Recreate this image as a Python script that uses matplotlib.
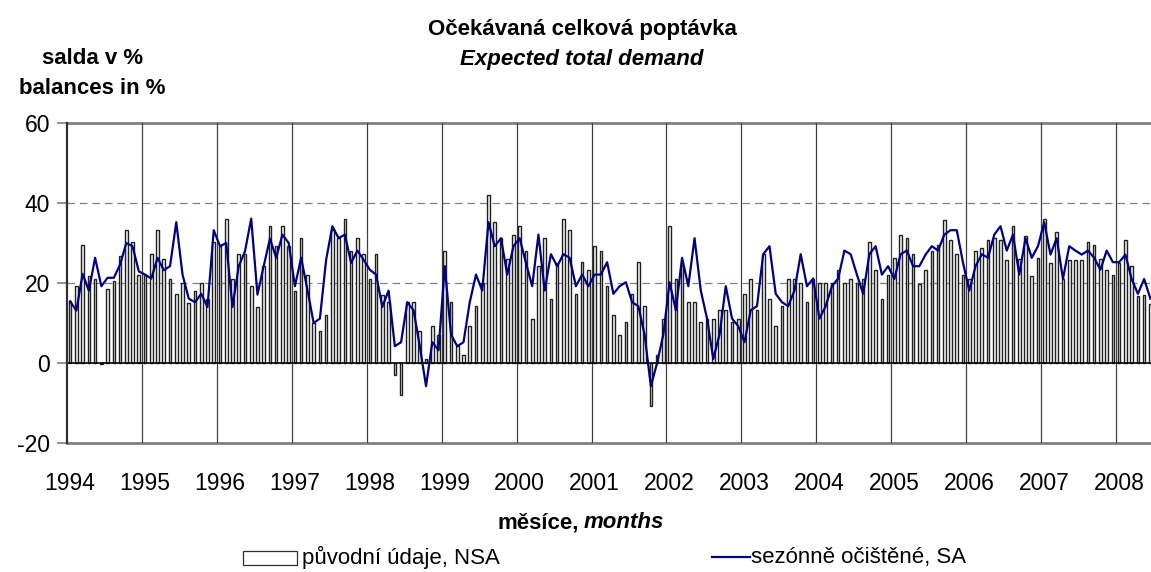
# Ocekavana celkova poptavka / Expected total demand, 1994-2008 (monthly)

import matplotlib.pyplot as plt
from matplotlib.patches import Rectangle
from matplotlib.lines import Line2D
import numpy as np

plt.rcParams['font.family'] = ['Liberation Sans', 'DejaVu Sans']
plt.rcParams['axes.unicode_minus'] = False

# Data, one value per month from Jan 1994 to Jun 2008
years = [str(y) for y in range(1994, 2009)]

nsa = [
    # 1994
    15.6, 19.2, 29.6, 21.7, 21.0, -0.3, 18.6, 20.6, 26.7, 33.2, 30.2, 22.1,
    # 1995
    22.0, 27.2, 33.2, 26.1, 21.1, 17.3, 20.0, 15.0, 18.1, 20.0, 16.0, 30.2,
    # 1996
    29.2, 36.1, 21.1, 27.2, 27.2, 19.2, 14.0, 24.2, 34.2, 29.2, 34.2, 29.2,
    # 1997
    18.1, 31.2, 22.1, 10.0, 8.1, 12.1, 33.2, 31.2, 36.1, 28.1, 31.2, 27.2,
    # 1998
    21.1, 27.2, 17.0, 15.2, -2.9, -7.9, 15.2, 15.2, 8.1, 1.0, 9.2, 7.1,
    # 1999
    28.1, 15.2, 4.2, 2.1, 9.2, 14.2, 20.0, 42.1, 35.2, 31.2, 26.0, 32.1,
    # 2000
    34.2, 28.1, 11.1, 24.2, 31.2, 16.1, 25.0, 36.1, 33.2, 17.3, 25.2, 23.2,
    # 2001
    29.2, 28.1, 19.2, 12.1, 7.1, 10.2, 17.3, 25.2, 14.2, -10.8, 2.1, 11.1,
    # 2002
    34.2, 21.1, 24.2, 15.2, 15.2, 10.2, 11.1, 11.1, 13.2, 13.2, 10.2, 11.1,
    # 2003
    17.3, 21.1, 13.2, 27.2, 16.1, 9.2, 14.2, 21.1, 21.1, 20.0, 15.2, 21.1,
    # 2004
    20.0, 20.0, 20.0, 23.2, 20.0, 21.1, 20.0, 21.1, 30.2, 23.2, 16.1, 22.1,
    # 2005
    26.3, 32.1, 31.2, 27.2, 19.8, 23.2, 28.1, 29.6, 35.8, 30.7, 27.2, 22.1,
    # 2006
    21.0, 28.1, 28.8, 30.7, 31.2, 30.7, 25.7, 34.2, 26.0, 31.7, 21.7, 26.3,
    # 2007
    36.1, 25.0, 32.7, 21.0, 25.7, 25.7, 25.7, 30.2, 29.6, 26.0, 23.2, 22.1,
    # 2008
    25.0, 30.7, 24.2, 16.7, 17.0, 14.8,
]

sa = [
    15.4, 13.1, 22.3, 18.1, 26.3, 19.2, 21.3, 21.3, 24.6, 30.0, 29.2, 22.9,
    22.1, 21.1, 26.3, 23.2, 24.2, 35.2, 22.1, 16.1, 15.2, 17.3, 14.0, 33.2,
    29.2, 30.0, 14.0, 24.2, 27.9, 36.1, 17.1, 24.2, 31.1, 26.3, 32.1, 30.0,
    19.2, 26.3, 18.3, 10.0, 11.1, 25.8, 34.2, 31.2, 32.1, 25.0, 28.1, 25.8,
    23.3, 22.1, 14.0, 18.1, 4.2, 5.2, 15.2, 13.2, 4.2, -5.8, 5.2, 3.2,
    24.2, 7.1, 4.2, 5.2, 15.2, 22.1, 18.1, 35.2, 29.2, 31.2, 22.1, 29.2,
    31.2, 25.0, 19.2, 32.1, 18.1, 27.2, 24.2, 27.2, 26.3, 19.2, 22.1, 19.2,
    22.1, 22.1, 25.2, 17.3, 19.2, 20.2, 15.2, 14.2, 7.1, -5.8, 0.0, 7.1,
    20.2, 13.2, 26.3, 19.2, 31.2, 18.1, 11.1, 1.0, 7.1, 19.2, 11.1, 9.2,
    5.2, 13.2, 14.2, 27.2, 29.2, 17.3, 15.2, 14.2, 18.1, 27.2, 19.2, 21.1,
    11.1, 14.2, 19.2, 21.1, 28.1, 27.2, 22.1, 17.3, 27.2, 29.2, 22.1, 24.2,
    21.0, 27.2, 28.1, 24.2, 24.2, 27.1, 29.2, 28.1, 32.1, 33.2, 33.2, 25.0,
    18.1, 24.2, 27.2, 26.3, 32.1, 34.2, 28.1, 32.1, 22.1, 31.2, 26.3, 29.2,
    35.2, 27.1, 31.2, 21.0, 29.2, 28.1, 27.1, 28.1, 26.3, 23.3, 28.1, 25.2,
    25.2, 27.1, 21.0, 17.3, 21.0, 16.1,
]

x = np.arange(len(nsa))

fig = plt.figure(figsize=(11.51, 5.72), dpi=100)
ax = fig.add_axes([67 / 1151, 1 - 443 / 572, 1084 / 1151, 320 / 572])

# bars and line
ax.bar(x, nsa, width=0.42, color='#f4f4f4', edgecolor='#202020', linewidth=1.0, zorder=3)
ax.plot(x, sa, color='#000080', linewidth=1.6, zorder=4)

ax.set_xlim(-0.5, 173.1)
ax.set_ylim(-20, 60)

# grid lines
for v in (20, 40):
    ax.axhline(v, color='#808080', linewidth=0.9, dashes=(6, 4), zorder=1)
for v in (60, -20):
    ax.axhline(v, color='#808080', linewidth=2.0, zorder=1, clip_on=False)
ax.axhline(0, color='black', linewidth=1.2, zorder=5)
for k in range(1, 15):
    ax.axvline(-0.5 + 12 * k, color='#404040', linewidth=0.9, zorder=2)

for s in ('top', 'right', 'bottom'):
    ax.spines[s].set_visible(False)
ax.spines['left'].set_color('#303030')
ax.spines['left'].set_linewidth(1.6)
ax.spines['left'].set_zorder(6)

ax.set_yticks([-20, 0, 20, 40, 60])
ax.tick_params(axis='y', direction='out', length=7, width=1.2, color='#808080',
               labelsize=16.5, pad=5)
ax.set_xticks(np.arange(0, len(nsa), 12))
ax.set_xticklabels(years)
ax.tick_params(axis='x', length=0, labelsize=16.5, pad=21)

# titles
fig.text(582 / 1151, 1 - 30 / 572, 'Očekávaná celková poptávka', ha='center', va='center',
         fontsize=16, fontweight='bold')
fig.text(582 / 1151, 1 - 60 / 572, 'Expected total demand', ha='center', va='center',
         fontsize=16, fontweight='bold', style='italic')
fig.text(93 / 1151, 1 - 58 / 572, 'salda v %', ha='center', va='center',
         fontsize=16, fontweight='bold')
fig.text(92 / 1151, 1 - 88 / 572, 'balances in %', ha='center', va='center',
         fontsize=16, fontweight='bold')
fig.text(579 / 1151, 1 - 523 / 572, 'měsíce,', ha='right', va='center',
         fontsize=16, fontweight='bold')
fig.text(584 / 1151, 1 - 523 / 572, 'months', ha='left', va='center',
         fontsize=16, fontweight='bold', style='italic')

# legend
fig.patches.append(Rectangle((243 / 1151, 1 - 565 / 572), 54 / 1151, 14 / 572,
                             transform=fig.transFigure, facecolor='white',
                             edgecolor='#303030', linewidth=0.9))
fig.text(302 / 1151, 1 - 557 / 572, 'původní údaje, NSA', ha='left', va='center', fontsize=16)
fig.lines.append(Line2D([712 / 1151, 750 / 1151], [1 - 557 / 572, 1 - 557 / 572],
                        transform=fig.transFigure, color='#000080', linewidth=1.6))
fig.text(751 / 1151, 1 - 557 / 572, 'sezónně očištěné, SA', ha='left', va='center', fontsize=16)

fig.savefig('out.png', dpi=100)
